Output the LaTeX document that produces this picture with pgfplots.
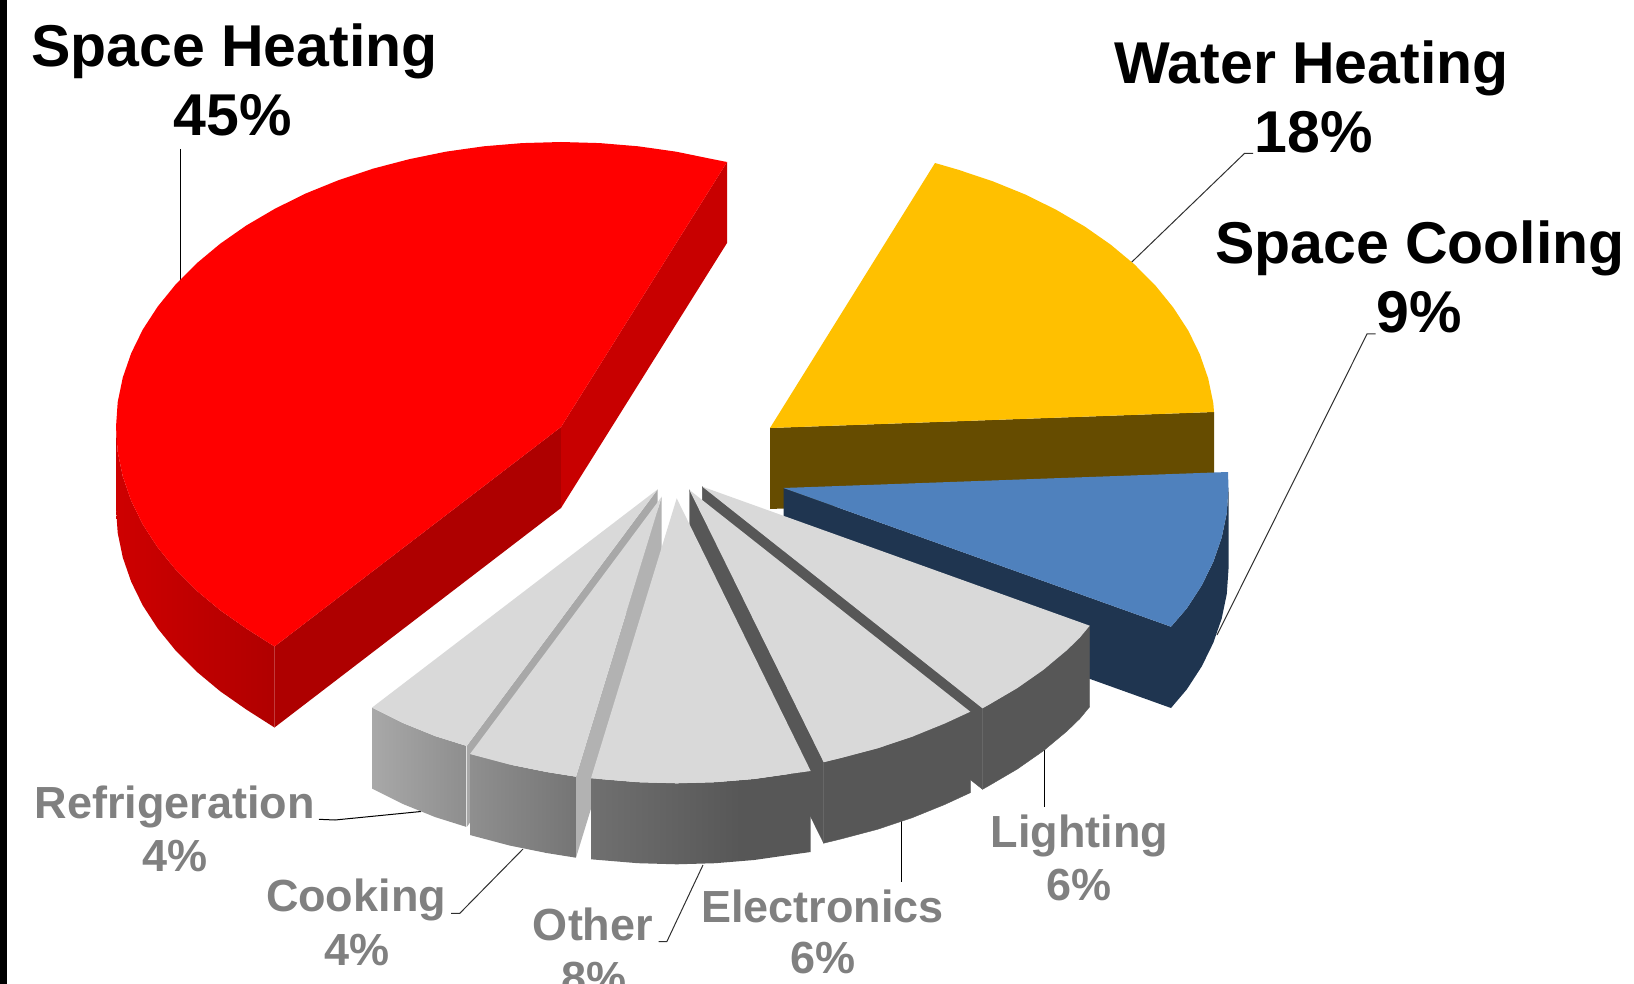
\documentclass[border=0pt]{standalone}
\usepackage{fontspec}
\setmainfont{Liberation Sans}
\usepackage{pgfplots}
\pgfplotsset{compat=1.18}

\definecolor{heatTop}{HTML}{FF0000}
\definecolor{heatFlank}{HTML}{AE0000}
\definecolor{heatCut}{HTML}{C80000}
\definecolor{heatRimL}{HTML}{CE0000}
\definecolor{heatRimR}{HTML}{B00000}
\definecolor{waterTop}{HTML}{FFC000}
\definecolor{waterSide}{HTML}{664C00}
\definecolor{coolTop}{HTML}{4F81BD}
\definecolor{coolSide}{HTML}{1F3550}
\definecolor{greyTop}{HTML}{D9D9D9}
\definecolor{greyDark}{HTML}{575757}
\definecolor{greyText}{HTML}{808080}
\definecolor{fridgeL}{HTML}{A8A8A8}
\definecolor{fridgeR}{HTML}{8E8E8E}
\definecolor{fridgeCut}{HTML}{A8A8A8}
\definecolor{cookL}{HTML}{8F8F8F}
\definecolor{cookR}{HTML}{757575}
\definecolor{cookCut}{HTML}{B2B2B2}
\definecolor{otherL}{HTML}{707070}
\definecolor{leader}{HTML}{303030}

% Rim of the "Other" slice: the gradient levels off before its right end
\pgfdeclarehorizontalshading{otherrim}{100bp}{
  color(0bp)=(otherL); color(25bp)=(otherL); color(59bp)=(greyDark); color(100bp)=(greyDark)}

\newcommand{\bigfont}{\bfseries\fontsize{59}{59}\selectfont}
\newcommand{\smallfont}{\bfseries\fontsize{45}{45}\selectfont}
\tikzset{
  major/.style={inner sep=0pt, outer sep=0pt, anchor=base, text=black, font=\bigfont},
  minor/.style={inner sep=0pt, outer sep=0pt, anchor=base, text=greyText, font=\smallfont},
}

\begin{document}
\begin{tikzpicture}
\path[use as bounding box] (0,0) rectangle (1634pt,984pt);
\clip (0,0) rectangle (1634pt,984pt);
\begin{axis}[
  at={(0,0)}, anchor=south west,
  width=1634pt, height=984pt, scale only axis,
  xmin=0, xmax=1634, ymin=0, ymax=984, y dir=reverse,
  hide axis, clip=false,
  every axis plot/.append style={draw=none, mark=none, forget plot},
]
% Left edge band
\addplot[fill=black] coordinates {(0,0) (6.5,0) (6.5,984) (0,984)} --cycle;

% Leader lines
\addplot[draw=black, line width=1pt] coordinates {(180.4,149) (180.4,282)};
\addplot[draw=leader, line width=1pt] coordinates {(1253,153.3) (1244.6,153.3) (1130.5,263.3)};
\addplot[draw=leader, line width=1pt] coordinates {(1375.7,334) (1367,334) (1217,635)};
\addplot[draw=black, line width=1pt] coordinates {(319,819.3) (335,820) (421,811.5)};
\addplot[draw=leader, line width=1pt] coordinates {(451,913.3) (459.8,913.3) (523,849)};
\addplot[draw=leader, line width=1pt] coordinates {(658.5,941.7) (666.8,941.7) (703,865)};
\addplot[draw=black, line width=1pt] coordinates {(901.4,820) (901.4,881.7)};
\addplot[draw=black, line width=1pt] coordinates {(1044,750) (1044,807)};

% Space Heating, 45%
\addplot[fill=heatFlank] coordinates {(274.5,646.5) (561,427) (561,508) (274.5,727.5)} --cycle;
\addplot[fill=heatCut] coordinates {(561,427) (727,162) (727,243) (561,508)} --cycle;
\addplot[left color=heatRimL, right color=heatRimR] coordinates {
  (116,427) (117.7,451.9) (122.8,476.5) (131.2,500.8) (142.8,524.5) (157.7,547.4) (175.6,569.5) (196.5,590.5)
  (220.1,610.2) (246.3,628.5) (274.5,646.5)
  (274.5,727.5) (246.3,709.5) (220.1,691.2) (196.5,671.5) (175.6,650.5) (157.7,628.4) (142.8,605.5) (131.2,581.8)
  (122.8,557.5) (117.7,532.9) (116,508)} --cycle;
\addplot[fill=heatTop] coordinates {
  (561,427) (727,162) (712.8,159.2) (676.2,151.7) (638.3,146.3) (599.8,143.1) (561,142) (522.2,143.1) (483.7,146.3)
  (445.8,151.7) (409.2,159.2) (372.9,168.7) (338.5,180.2) (305.7,193.5) (275,208.7) (246.3,225.5) (220.1,243.8)
  (196.5,263.5) (175.6,284.5) (157.7,306.6) (142.8,329.5) (131.2,353.2) (122.8,377.5) (117.7,402.1) (116,427)
  (117.7,451.9) (122.8,476.5) (131.2,500.8) (142.8,524.5) (157.7,547.4) (175.6,569.5) (196.5,590.5) (220.1,610.2)
  (246.3,628.5) (274.5,646.5)} --cycle;

% Water Heating, 18%
\addplot[fill=waterSide] coordinates {(770,428) (1214,412) (1214,493) (770,509)} --cycle;
\addplot[fill=waterTop] coordinates {
  (770,428) (935,163) (958.1,169.7) (992.5,181.2) (1025.3,194.5) (1056,209.7) (1084.7,226.5)
  (1110.9,244.8) (1134.5,264.5) (1155.4,285.5) (1173.3,307.6) (1188.2,330.5) (1199.8,354.2) (1208.2,378.5)
  (1213.3,403.1) (1214,412)} --cycle;

% Space Cooling, 9%
\addplot[fill=coolSide] coordinates {(783.5,488) (1171,626.7) (1171,708) (783.5,569)} --cycle;
\addplot[fill=coolSide] coordinates {
  (1228.5,488) (1226.8,512.9) (1221.7,537.5) (1213.3,561.8) (1201.7,585.5) (1186.8,608.4) (1171,626.7)
  (1171,708) (1186.8,689.4) (1201.7,666.5) (1213.3,642.8) (1221.7,618.5) (1226.8,593.9) (1228.5,569)} --cycle;
\addplot[fill=coolTop] coordinates {
  (783.5,488) (1228,472) (1228.5,488) (1226.8,512.9) (1221.7,537.5) (1213.3,561.8)
  (1201.7,585.5) (1186.8,608.4) (1171,626.7)} --cycle;

% Lighting, 6%
\addplot[fill=greyDark, draw=greyDark, line width=0.4pt] coordinates {(702.4,486.7) (982.5,708.3) (982.5,789.3) (702.4,567.7)} --cycle;
\addplot[fill=greyDark, draw=greyDark, line width=0.4pt] coordinates {
  (1089.7,625.7) (1079.8,637.7) (1066.9,650.2) (1043.3,669.9) (1017.1,688.2) (988.4,705) (982.5,708.3)
  (982.5,789.3) (988.4,786) (1017.1,769.2) (1043.3,750.9) (1066.9,731.2) (1079.8,718.7) (1089.7,706.7)} --cycle;
\addplot[fill=greyTop] coordinates {
  (702.4,486.7) (1089.7,625.7) (1079.8,637.7) (1066.9,650.2) (1043.3,669.9) (1017.1,688.2)
  (988.4,705) (982.5,708.3)} --cycle;

% Electronics, 6%
\addplot[fill=greyDark, draw=greyDark, line width=0.4pt] coordinates {(689.5,490) (823.7,762.2) (823.7,843.2) (689.5,571)} --cycle;
\addplot[fill=greyDark, draw=greyDark, line width=0.4pt] coordinates {
  (970.3,711.7) (944.8,723.5) (912,736.8) (877.6,748.3) (841.7,757.8) (823.7,762.2)
  (823.7,843.2) (841.7,838.8) (877.6,829.3) (912,817.8) (944.8,804.5) (970.3,792.7)} --cycle;
\addplot[fill=greyTop] coordinates {
  (689.5,490) (970.3,711.7) (944.8,723.5) (912,736.8) (877.6,748.3) (841.7,757.8) (823.7,762.2)} --cycle;

% Refrigeration, 4%
\addplot[fill=fridgeCut] coordinates {(657.7,489.3) (466.7,746) (466.7,827) (657.7,570.3)} --cycle;
\addplot[left color=fridgeL, right color=fridgeR] coordinates {
  (372,707.6) (402.4,722.8) (435.2,736.1) (466.7,746)
  (466.7,827) (435.2,817.1) (402.4,803.8) (372,788.6)} --cycle;
\addplot[fill=greyTop] coordinates {
  (657.7,489.3) (466.7,746) (435.2,736.1) (402.4,722.8) (372,707.6)} --cycle;

% Cooking, 4%
\addplot[fill=cookCut] coordinates {(661.7,496.7) (576,776.7) (576,857.7) (661.7,577.7)} --cycle;
\addplot[left color=cookL, right color=cookR] coordinates {
  (470,754) (473.6,755) (509.5,764.5) (546.5,772) (576,776.7)
  (576,857.7) (546.5,853) (509.5,845.5) (473.6,836) (470,835)} --cycle;
\addplot[fill=greyTop] coordinates {
  (661.7,496.7) (576,776.7) (546.5,772) (509.5,764.5) (473.6,755) (470,754)} --cycle;

% Other, 8%
\addplot[shading=otherrim] coordinates {
  (591,778.3) (599.4,779) (637.9,782.2) (676.7,783.3) (715.5,782.2) (754,779) (791.9,773.6) (810.7,771)
  (810.7,852) (791.9,854.6) (754,860) (715.5,863.2) (676.7,864.3) (637.9,863.2) (599.4,860) (591,859.3)} --cycle;
\addplot[fill=greyTop] coordinates {
  (676.7,498.3) (810.7,771) (791.9,773.6) (754,779) (715.5,782.2) (676.7,783.3) (637.9,782.2)
  (599.4,779) (591,778.3)} --cycle;

% Labels
\node[major] at (axis cs:234.5,67) {Space Heating};
\node[major] at (axis cs:233,136) {45\%};
\node[major] at (axis cs:1311.5,84) {Water Heating};
\node[major] at (axis cs:1314,152.7) {18\%};
\node[major] at (axis cs:1420,264) {Space Cooling};
\node[major] at (axis cs:1419,333) {9\%};
\node[minor] at (axis cs:174.7,818) {Refrigeration};
\node[minor] at (axis cs:175,871) {4\%};
\node[minor] at (axis cs:356,911.7) {Cooking};
\node[minor] at (axis cs:357,965) {4\%};
\node[minor] at (axis cs:593,940) {Other};
\node[minor] at (axis cs:594,993) {8\%};
\node[minor] at (axis cs:822.7,922) {Electronics};
\node[minor] at (axis cs:823,973) {6\%};
\node[minor] at (axis cs:1079.5,847.7) {Lighting};
\node[minor] at (axis cs:1079,900) {6\%};
\end{axis}
\end{tikzpicture}
\end{document}
